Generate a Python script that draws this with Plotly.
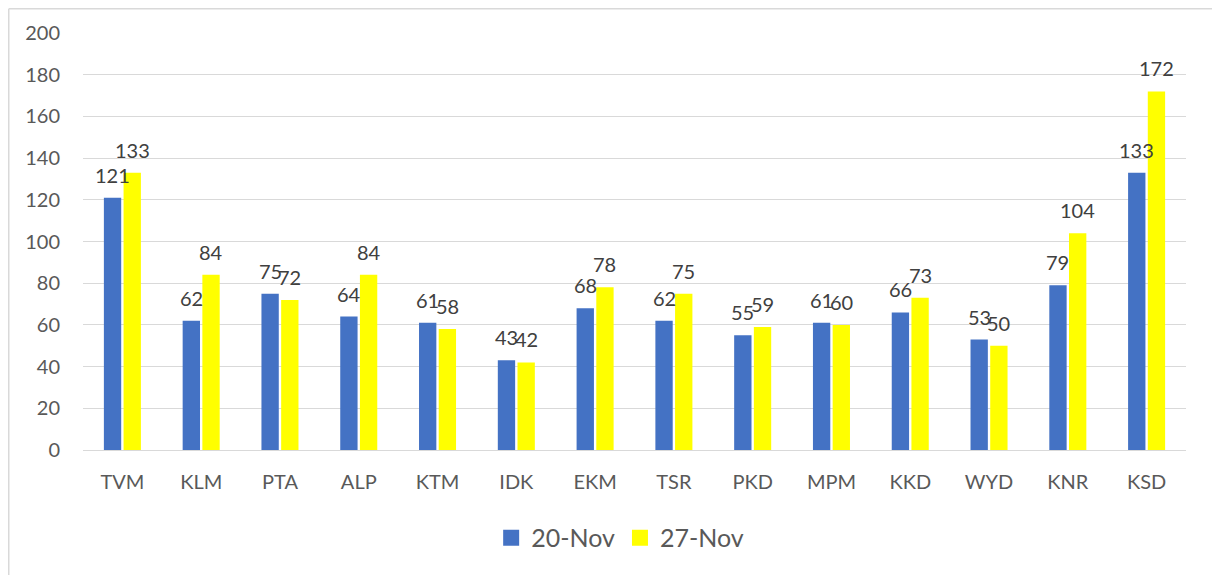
import plotly.graph_objects as go

districts = ["TVM", "KLM", "PTA", "ALP", "KTM", "IDK", "EKM",
             "TSR", "PKD", "MPM", "KKD", "WYD", "KNR", "KSD"]
nov20 = [121, 62, 75, 64, 61, 43, 68, 62, 55, 61, 66, 53, 79, 133]
nov27 = [133, 84, 72, 84, 58, 42, 78, 75, 59, 60, 73, 50, 104, 172]
y_ticks = list(range(0, 201, 20))

FONT = "Lato, 'Open Sans', Arial"
W, H = 1220, 575
L, R, T, B = 75, 42, 25, 133          # page has an 8px body offset
pw, ph = W - L - R, H - T - B
BARGAP, GROUPGAP = 0.5, 0.12

fig = go.Figure()
series = [("20-Nov", nov20, "#4472C4"), ("27-Nov", nov27, "#FFFF00")]
for name, vals, color in series:
    fig.add_trace(go.Bar(
        x=districts, y=vals, name=name, showlegend=False,
        marker=dict(color=color, line=dict(width=0)),
    ))

# legend entries with bigger square keys (Excel style)
for name, vals, color in series:
    fig.add_trace(go.Scatter(
        x=[None], y=[None], name=name, mode="markers",
        marker=dict(symbol="square", size=16, color=color),
    ))

# data labels, sitting a little above each bar like Excel does
slot = pw / len(districts) * (1 - BARGAP) / 2
for i, (name, vals, color) in enumerate(series):
    shift = (i - 0.5) * slot
    for d, v in zip(districts, vals):
        fig.add_annotation(x=d, y=v, text=str(v), showarrow=False,
                           xshift=shift, yshift=9, yanchor="bottom",
                           font=dict(family=FONT, size=20, color="#404040"))

# left / top border of the chart frame
x0 = (0.75 - L) / pw
y1 = (H - B - 0.75) / ph
y0 = (H - B - 575) / ph
fig.add_shape(type="line", xref="paper", yref="paper", x0=x0, x1=x0, y0=y0, y1=y1,
              line=dict(color="#D9D9D9", width=1.5))
fig.add_shape(type="line", xref="paper", yref="paper", x0=x0, x1=1.2, y0=y1, y1=y1,
              line=dict(color="#D9D9D9", width=1.5))

fig.update_layout(
    width=W, height=H,
    barmode="group", bargap=BARGAP, bargroupgap=GROUPGAP,
    plot_bgcolor="white", paper_bgcolor="white",
    font=dict(family=FONT, size=20, color="#595959"),
    margin=dict(l=L, r=R, t=T, b=B),
    showlegend=True,
    legend=dict(orientation="h", x=0.487, xanchor="center", y=-0.211, yanchor="middle",
                font=dict(family=FONT, size=25, color="#595959"),
                itemwidth=30, itemsizing="trace", traceorder="normal"),
)
fig.update_xaxes(showgrid=False, showline=False, ticks="", ticklabelstandoff=18,
                 tickfont=dict(family=FONT, size=20, color="#595959"))
fig.update_yaxes(range=[0, 200], tickvals=y_ticks, showgrid=True,
                 gridcolor="#D9D9D9", gridwidth=1, zeroline=True,
                 zerolinecolor="#D9D9D9", zerolinewidth=1, ticks="",
                 ticklabelstandoff=22,
                 tickfont=dict(family=FONT, size=20, color="#595959"))

fig.write_html("out.html")
